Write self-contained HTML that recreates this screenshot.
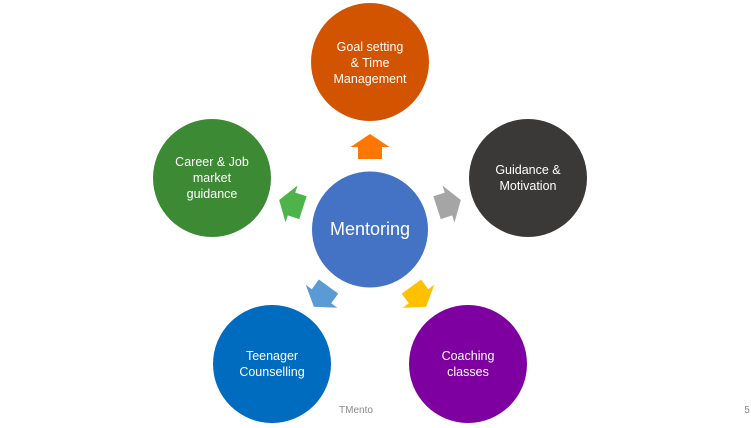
<!DOCTYPE html>
<html><head><meta charset="utf-8"><style>
html,body{margin:0;padding:0;background:#fff;overflow:hidden;}
svg{display:block;}
text{font-family:"Liberation Sans",sans-serif;fill:#fff;text-anchor:middle;}
</style></head><body>
<svg width="751" height="428" viewBox="0 0 751 428" xmlns="http://www.w3.org/2000/svg">
<defs>
<polygon id="arr" points="0,-12.5 19.5,0.5 12,0.5 12,12.5 -12,12.5 -12,0.5 -19.5,0.5"/>
</defs>
<circle cx="370" cy="62" r="59" fill="#D35400"/>
<circle cx="528" cy="178" r="59" fill="#3B3838"/>
<circle cx="468" cy="364" r="59" fill="#7F00A0"/>
<circle cx="272" cy="364" r="59" fill="#006CC0"/>
<circle cx="212" cy="178" r="59" fill="#3C8A34"/>
<circle cx="370" cy="229.5" r="58" fill="#4472C4"/>
<g transform="translate(370,229.5)">
<use href="#arr" fill="#FF7700" transform="rotate(0) translate(0,-83)"/>
<use href="#arr" fill="#A5A5A5" transform="rotate(72) translate(0,-83)"/>
<use href="#arr" fill="#FFC000" transform="rotate(144) translate(0,-83)"/>
<use href="#arr" fill="#5B9BD5" transform="rotate(-144) translate(0,-83)"/>
<use href="#arr" fill="#4EB348" transform="rotate(-72) translate(0,-83)"/>
</g>
<g style="font-size:12.5px">
<text x="370" y="51">Goal setting</text>
<text x="370" y="67">&amp; Time</text>
<text x="370" y="83">Management</text>
<text x="528" y="174">Guidance &amp;</text>
<text x="528" y="190">Motivation</text>
<text x="468" y="360">Coaching</text>
<text x="468" y="376">classes</text>
<text x="272" y="360">Teenager</text>
<text x="272" y="376">Counselling</text>
<text x="212" y="166">Career &amp; Job</text>
<text x="212" y="182">market</text>
<text x="212" y="198">guidance</text>
</g>
<text x="370" y="235" style="font-size:18px">Mentoring</text>
<text x="356" y="413" style="font-size:10px;fill:#8a8a8a">TMento</text>
<text x="747" y="413" style="font-size:10px;fill:#8a8a8a">5</text>
</svg>
</body></html>
